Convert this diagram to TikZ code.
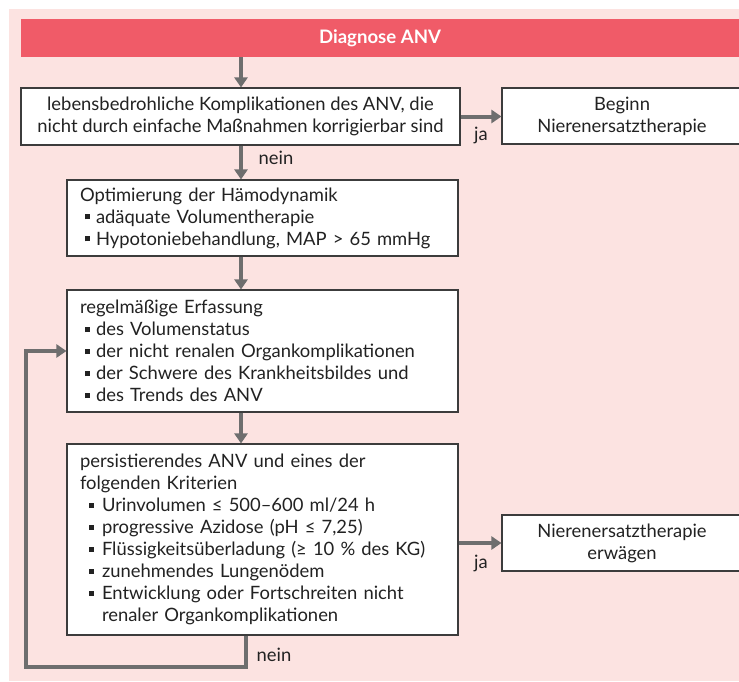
\documentclass[tikz,border=0pt]{standalone}
\usepackage{fontspec}
\setmainfont{Lato}
\usetikzlibrary{arrows.meta}
\definecolor{bgpink}{HTML}{FCE3E1}
\definecolor{hdred}{HTML}{F05B68}
\definecolor{lnk}{HTML}{6E6E6E}
\definecolor{bord}{HTML}{3C3C3C}
\definecolor{txt}{HTML}{222222}
\newcommand\bx{\textcolor{txt}{\rule[0.2em]{0.27em}{0.27em}}}
\newcommand\itA[1]{\hspace*{5pt}\makebox[11pt][l]{\bx}#1}
\newcommand\itB[1]{\hspace*{9pt}\makebox[13pt][l]{\bx}#1}
\begin{document}
\begin{tikzpicture}[x=1pt,y=-1pt,
  box/.style={draw=bord,line width=1.1pt,fill=white,rectangle,text=txt,
    font=\fontsize{18.4}{22}\selectfont,inner ysep=0pt},
  lbox/.style={box,align=left,inner xsep=13pt,text width=#1},
  cbox/.style={box,align=center},
  arr/.style={draw=lnk,line width=4pt,line join=miter,
    -{Triangle[length=10pt,width=13pt]}},
  lbl/.style={text=txt,font=\fontsize{18.4}{22}\selectfont,inner sep=0pt}]
\useasboundingbox (0,0) rectangle (739,681);
\clip (0,0) rectangle (739,681);
\fill[bgpink] (9,9) rectangle (739,681);
\node[fill=hdred,minimum width=718pt,minimum height=38pt,inner sep=0pt,
  text=white,font=\fontsize{18.6}{22}\selectfont\bfseries] (hdr) at (380,38) {Diagnose ANV};
\node[cbox,minimum width=439pt,minimum height=57pt] (b1) at (240.5,116.5)
  {lebensbedrohliche Komplikationen des ANV, die\\nicht durch einfache Maßnahmen korrigierbar sind};
\node[cbox,minimum width=240pt,minimum height=56pt] (beg) at (622,116)
  {Beginn\\Nierenersatztherapie};
\node[lbox=365pt,minimum width=391pt,minimum height=76pt] (b2) at (262.5,218)
  {Optimierung der Hämodynamik\\
   \itA{adäquate Volumentherapie}\\
   \itA{Hypotoniebehandlung, MAP > 65 mmHg}};
\node[lbox=365pt,minimum width=391pt,minimum height=122pt] (b3) at (262.5,351)
  {regelmäßige Erfassung\\
   \itA{des Volumenstatus}\\
   \itA{der nicht renalen Organkomplikationen}\\
   \itA{der Schwere des Krankheitsbildes und}\\
   \itA{des Trends des ANV}};
\node[lbox=365pt,minimum width=391pt,minimum height=191pt] (b4) at (262.5,539.5)
  {persistierendes ANV und eines der\\
   folgenden Kriterien\\
   \itB{Urinvolumen ≤ 500–600 ml/24 h}\\
   \itB{progressive Azidose (pH ≤ 7,25)}\\
   \itB{Flüssigkeitsüberladung (≥ 10 \% des KG)}\\
   \itB{zunehmendes Lungenödem}\\
   \itB{Entwicklung oder Fortschreiten nicht}\\
   \hspace*{22pt}renaler Organkomplikationen};
\node[cbox,minimum width=240pt,minimum height=56pt] (b5) at (622,543)
  {Nierenersatztherapie\\erwägen};
\coordinate (ax) at (241,0);
\draw[arr] (ax |- hdr.south) -- (ax |- b1.north);
\draw[arr] (ax |- b1.south) -- (ax |- b2.north);
\draw[arr] (ax |- b2.south) -- (ax |- b3.north);
\draw[arr] (ax |- b3.south) -- (ax |- b4.north);
\draw[arr] (b1.east) -- (b1.east -| beg.west);
\draw[arr] (b5.west -| b4.east) -- (b5.west);
\coordinate (lp1) at (246,667);
\coordinate (lp2) at (26,667);
\draw[arr] (lp1 |- b4.south) -- (lp1) -- (lp2) -- (lp2 |- b3.west) -- (b3.west);
\node[lbl] (ja1) at (481,135) {ja};
\node[lbl] (ja2) at (481,563) {ja};
\node[lbl] (nein1) at (276,158) {nein};
\node[lbl] (nein2) at (274,655) {nein};
\end{tikzpicture}
\end{document}
